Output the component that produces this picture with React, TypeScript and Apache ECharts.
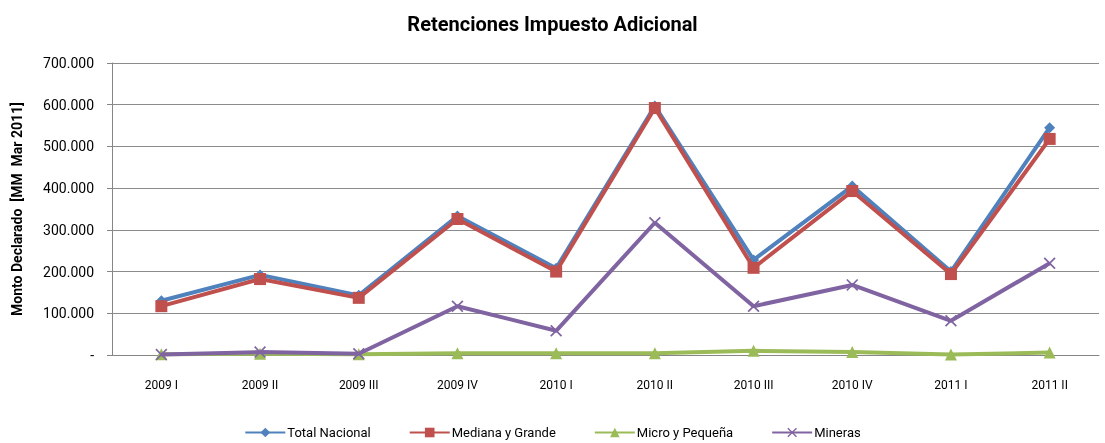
import React, { useEffect, useRef } from "react";
import * as echarts from "echarts";

const categories = ["2009 I", "2009 II", "2009 III", "2009 IV", "2010 I", "2010 II", "2010 III", "2010 IV", "2011 I", "2011 II"];
const totalNacional = [130000, 192000, 143000, 333000, 208000, 597000, 228000, 405000, 200000, 545000];
const medianaGrande = [117000, 182000, 137000, 326000, 200000, 592000, 209000, 393000, 194000, 518000];
const microPequena = [2000, 3000, 2000, 4000, 4000, 4000, 10000, 7000, 1000, 6000];
const mineras = [1000, 7000, 3000, 117000, 58000, 317000, 117000, 168000, 82000, 220000];
const yTicks = [0, 100000, 200000, 300000, 400000, 500000, 600000, 700000];

const FONT = "Roboto, 'Open Sans', sans-serif";
const X_SYMBOL = "path://M0,1L1,0L5,4L9,0L10,1L6,5L10,9L9,10L5,6L1,10L0,9L4,5Z";

function fmt(v: number): string {
  if (v === 0) return "-";
  const s = Math.round(v).toString();
  return s.replace(/\B(?=(\d{3})+(?!\d))/g, ".");
}

export default function App() {
  const ref = useRef<HTMLDivElement>(null);
  useEffect(() => {
    if (!ref.current) return;
    const chart = echarts.init(ref.current, undefined, { renderer: "svg" });
    const mk = (name: string, data: number[], color: string, symbol: string, size: number, z: number) => ({
      name,
      type: "line",
      data,
      symbol,
      symbolSize: size,
      z,
      lineStyle: { color, width: 4 },
      itemStyle: { color },
    });
    chart.setOption({
      animation: false,
      textStyle: { fontFamily: FONT },
      title: {
        text: "Retenciones Impuesto Adicional",
        left: "center",
        top: 9,
        textStyle: { fontFamily: FONT, fontSize: 20, fontWeight: "bold", color: "#000" },
      },
      legend: {
        bottom: -1,
        left: "center",
        itemWidth: 40,
        itemHeight: 12,
        itemGap: 38,
        textStyle: { fontFamily: FONT, fontSize: 13, color: "#000", padding: [0, 0, 0, -3] },
        data: ["Total Nacional", "Mediana y Grande", "Micro y Pequeña", "Mineras"],
      },
      grid: { left: 112, right: 6, top: 63, bottom: 88 },
      xAxis: {
        type: "category",
        data: categories,
        boundaryGap: true,
        axisLine: { lineStyle: { color: "#868686", width: 1 } },
        axisTick: { show: false },
        axisLabel: { color: "#000", fontSize: 12, fontFamily: FONT, margin: 24 },
      },
      yAxis: {
        type: "value",
        min: yTicks[0],
        max: yTicks[yTicks.length - 1],
        interval: 100000,
        axisLine: { show: true, lineStyle: { color: "#868686", width: 1 } },
        axisTick: { show: true, length: 5, lineStyle: { color: "#868686" } },
        splitLine: { lineStyle: { color: "#8c8c8c", width: 1 } },
        axisLabel: { color: "#000", fontSize: 14, fontFamily: FONT, margin: 18, formatter: (v: number) => fmt(v) },
        name: "Monto Declarado  [MM  Mar 2011]",
        nameLocation: "middle",
        nameGap: 88,
        nameRotate: 90,
        nameTextStyle: { fontFamily: FONT, fontSize: 14, fontWeight: "bold", color: "#000" },
      },
      series: [
        mk("Total Nacional", totalNacional, "#4F81BD", "diamond", 11, 2),
        mk("Mediana y Grande", medianaGrande, "#C0504D", "rect", 12, 3),
        mk("Micro y Pequeña", microPequena, "#9BBB59", "triangle", 12, 4),
        mk("Mineras", mineras, "#8064A2", X_SYMBOL, 12, 5),
      ],
    });
    return () => chart.dispose();
  }, []);
  return <div ref={ref} style={{ position: "fixed", left: 0, top: 0, width: 1105, height: 443 }} />;
}
